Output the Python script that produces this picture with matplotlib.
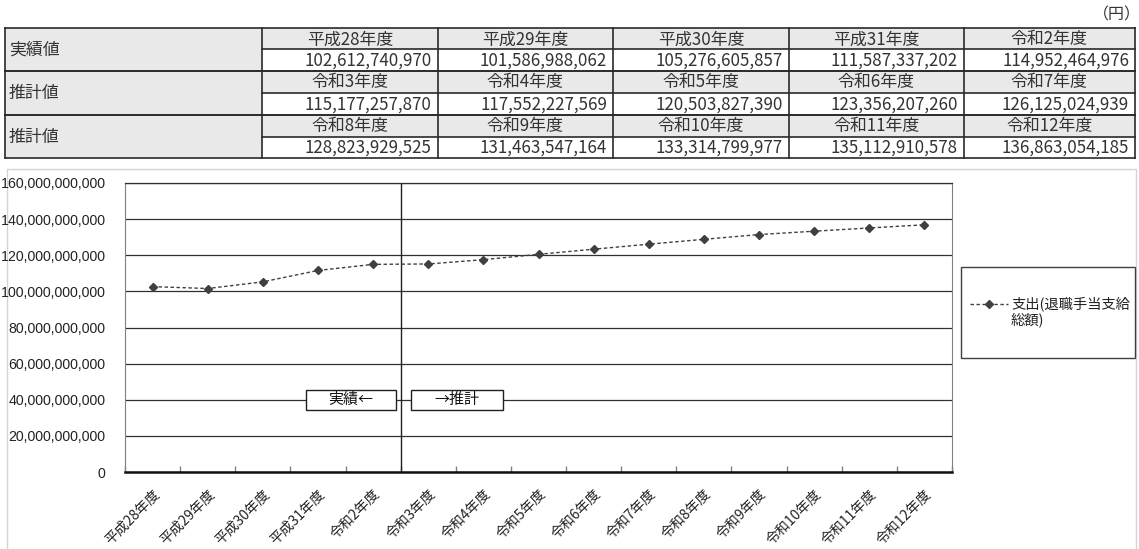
import numpy as np
import matplotlib
matplotlib.use('Agg')
import matplotlib.pyplot as plt
import matplotlib.transforms as mtransforms
from matplotlib.patches import Rectangle
from matplotlib.ticker import FuncFormatter, MultipleLocator

# ---------------- data ----------------
categories = ['平成28年度', '平成29年度', '平成30年度', '平成31年度', '令和2年度',
              '令和3年度', '令和4年度', '令和5年度', '令和6年度', '令和7年度',
              '令和8年度', '令和9年度', '令和10年度', '令和11年度', '令和12年度']
values = [102612740970, 101586988062, 105276605857, 111587337202, 114952464976,
          115177257870, 117552227569, 120503827390, 123356207260, 126125024939,
          128823929525, 131463547164, 133314799977, 135112910578, 136863054185]
row_labels = ['実績値', '推計値', '推計値']
series_name = '支出(退職手当支給\n総額)'
unit_label = '（円）'
note_actual = '実績←'
note_forecast = '→推計'

# ---------------- figure ----------------
W, H = 1139, 549
fig = plt.figure(figsize=(W / 100, H / 100), dpi=100)
CJK = ['Noto Sans CJK JP', 'DejaVu Sans']
LAT = ['Liberation Sans', 'DejaVu Sans']

ov = fig.add_axes([0, 0, 1, 1])
ov.set_xlim(0, W)
ov.set_ylim(H, 0)
ov.axis('off')

# unit label
ov.text(1141, 15, unit_label, ha='right', va='center', fontsize=11.5, family=CJK, color='#333333')

# ---------------- table ----------------
cols = [5, 262, 437.5, 613, 789, 963.5, 1135]
rows = [28.3, 49.3, 71, 93, 115, 136.7, 158.3]
line_c = '#2a2a2a'
gray = '#e9e9e9'
ncol = 5
fs_tab = 12.2
for g in range(3):
    top, mid, bot = rows[2 * g], rows[2 * g + 1], rows[2 * g + 2]
    ov.add_patch(Rectangle((cols[0], top), cols[1] - cols[0], bot - top, fc=gray, ec='none'))
    ov.text(cols[0] + 4, (top + bot) / 2, row_labels[g], ha='left', va='center',
            fontsize=fs_tab, family=CJK, color='#333333')
    for j in range(ncol):
        k = g * ncol + j
        x0, x1 = cols[j + 1], cols[j + 2]
        ov.add_patch(Rectangle((x0, top), x1 - x0, mid - top, fc=gray, ec='none'))
        ov.text((x0 + x1) / 2, (top + mid) / 2 + 0.5, categories[k], ha='center', va='center',
                fontsize=fs_tab, family=CJK, color='#333333')
        ov.text(x1 - 6, (mid + bot) / 2 + 0.5, f'{values[k]:,}', ha='right', va='center',
                fontsize=fs_tab, family=CJK, color='#333333')
    ov.plot([cols[0], cols[-1]], [top, top], color=line_c, lw=1.2)
    ov.plot([cols[0], cols[-1]], [bot, bot], color=line_c, lw=1.2)
    ov.plot([cols[1], cols[-1]], [mid, mid], color=line_c, lw=1.2)
    for c in cols:
        ov.plot([c, c], [top, bot], color=line_c, lw=1.2)

# chart outer frame
ov.add_patch(Rectangle((7, 169), 1129, 400, fc='none', ec='#d4d4d4', lw=1))

# legend box (manual)
ov.add_patch(Rectangle((961, 267), 174, 91, fc='white', ec='#404040', lw=1))
ov.plot([970, 1008], [304, 304], ls=(0, (2.5, 1.8)), color='#404040', lw=1)
ov.plot([989], [304], marker='D', ms=4.5, color='#404040', ls='none')
ov.text(1011, 296, series_name, ha='left', va='top', fontsize=10.3, family=CJK,
        color='#222222', linespacing=1.1)

# ---------------- chart ----------------
ax = fig.add_axes([125 / W, (H - 472) / H, (952 - 125) / W, (472 - 183) / H])
x = np.arange(len(values))
ax.plot(x, values, ls=(0, (2.5, 1.8)), color='#404040', lw=1, marker='D', ms=4.5,
        mfc='#404040', mec='#404040', zorder=4)
ax.set_xlim(-0.5, len(values) - 0.5)
ax.set_ylim(0, 160e9)
ax.yaxis.set_major_locator(MultipleLocator(20e9))
ax.yaxis.set_major_formatter(FuncFormatter(lambda v, p: f'{int(round(v)):,}'))
ax.grid(axis='y', color='#303030', lw=0.9)
ax.set_axisbelow(True)

ax.set_xticks(x)
ax.set_xticklabels(categories, rotation=45, ha='right', va='top', rotation_mode='anchor',
                   fontsize=10, family=CJK, color='#222222')
offset = mtransforms.ScaledTranslation(4 / 100, 0, fig.dpi_scale_trans)
for lab in ax.get_xticklabels():
    lab.set_transform(lab.get_transform() + offset)
ax.tick_params(axis='x', which='major', length=0, pad=11)
ax.set_xticks(np.arange(-0.5, len(values)), minor=True)
ax.tick_params(axis='x', which='minor', direction='in', length=4, color='#808080', width=1)
ax.tick_params(axis='y', length=0, pad=14, labelsize=10.2, labelcolor='#222222')
for lab in ax.get_yticklabels():
    lab.set_family(LAT)

ax.spines['left'].set_color('#808080')
ax.spines['right'].set_color('#808080')
ax.spines['top'].set_color('#303030')
ax.spines['top'].set_linewidth(0.9)
ax.spines['bottom'].set_color('#111111')
ax.spines['bottom'].set_linewidth(1.8)

# divider between actual and forecast
ax.axvline(4.5, color='#202020', lw=1, zorder=2)

# notes boxes
ax.add_patch(Rectangle((2.78, 34.3e9), 1.64, 11.1e9, fc='white', ec='#202020', lw=1, zorder=3))
ax.text(2.78 + 1.64 / 2, 39.85e9, note_actual, ha='center', va='center', fontsize=10.8,
        family=CJK, color='#111111', zorder=5)
ax.add_patch(Rectangle((4.69, 34.3e9), 1.67, 11.1e9, fc='white', ec='#202020', lw=1, zorder=3))
ax.text(4.69 + 1.67 / 2, 39.85e9, note_forecast, ha='center', va='center', fontsize=10.8,
        family=CJK, color='#111111', zorder=5)

fig.savefig('out.png', dpi=100)
